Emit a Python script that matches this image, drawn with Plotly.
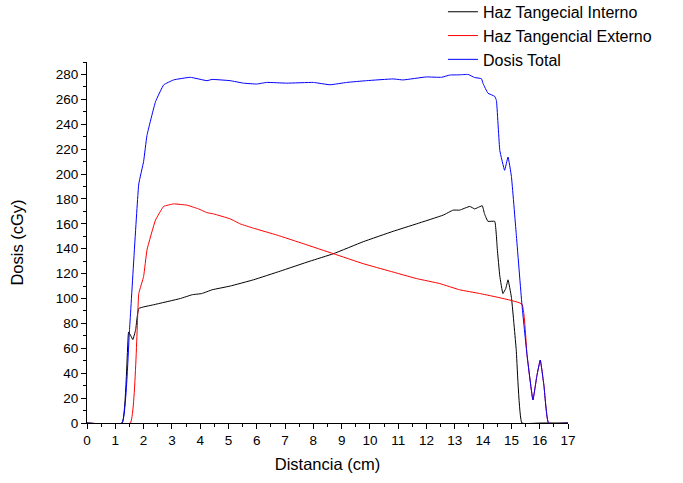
import plotly.graph_objects as go

# Haz Tangecial Interno
x_int = [0, 1.24, 1.47, 1.55, 1.62, 1.72, 1.83, 2.36, 3.3, 3.71, 4.06, 4.42, 5.06, 5.88, 6.83, 7.88,
         8.71, 9.76, 10.82, 11.65, 12.59, 12.94, 13.17, 13.53, 13.7, 13.97, 14.05, 14.17, 14.41, 14.5,
         14.59, 14.7, 14.8, 14.88, 15.0, 15.17, 15.37, 16.0, 17]
y_int = [0, 0, 73, 70, 67, 75, 92, 95, 100, 103, 104, 107, 110, 115, 122, 130,
         136, 145.6, 154, 160, 167, 171, 171, 174, 172, 174.5, 168, 162, 162, 140,
         118, 104, 108, 115, 101, 59, 0, 0, 0]

# Haz Tangencial Externo
x_ext = [0, 1.53, 1.83, 2.0, 2.12, 2.42, 2.71, 3.06, 3.53, 3.94, 4.24, 4.47, 5.06, 5.41, 5.88, 6.71,
         7.65, 8.71, 9.76, 10.7, 11.65, 12.47, 13.17, 13.88, 15.37, 15.55, 15.76, 15.9, 16.02, 16.15,
         16.31, 17]
y_ext = [0, 0, 104, 117.6, 139, 163, 174, 176, 175, 172, 169, 168, 164, 160, 156.5, 151,
         144, 136, 128, 122, 116, 112, 107, 104, 95.5, 55, 18.5, 38, 50.6, 30,
         0, 0]

# Dosis Total
x_tot = [0, 1.24, 1.5, 1.83, 2.0, 2.12, 2.42, 2.71, 3.06, 3.65, 4.24, 4.42, 5.06, 5.53, 6.0, 6.35,
         7.06, 8.0, 8.59, 9.18, 9.88, 10.82, 11.17, 11.99, 12.53, 12.82, 13.17, 13.47, 13.7, 13.94,
         14.0, 14.17, 14.41, 14.47, 14.59, 14.76, 14.88, 15.0, 15.17, 15.37, 15.55, 15.76, 15.9,
         16.02, 16.15, 16.31, 17]
y_tot = [0, 0, 74, 192, 210, 231, 258, 271.6, 275.6, 277.7, 275, 276, 275, 273, 272.3, 273.6,
         273, 273.6, 271.7, 273.6, 275, 276.4, 275.6, 278, 277.7, 279.5, 279.7, 280, 277.5, 276.6,
         272.6, 265, 262.4, 259, 219, 203, 213.7, 198, 152, 95.5, 55, 18.5, 38,
         50.6, 30, 0, 0]

x_ticks = list(range(0, 18))
y_ticks = list(range(0, 281, 20))

FONT = "Arial, Liberation Sans, sans-serif"

fig = go.Figure()
fig.add_trace(go.Scatter(x=x_int, y=y_int, mode="lines", name="Haz Tangecial Interno",
                         line=dict(color="#000000", width=1, shape="spline", smoothing=0.3)))
fig.add_trace(go.Scatter(x=x_ext, y=y_ext, mode="lines", name="Haz Tangencial Externo",
                         line=dict(color="#ff0000", width=1, shape="spline", smoothing=0.3)))
fig.add_trace(go.Scatter(x=x_tot, y=y_tot, mode="lines", name="Dosis Total",
                         line=dict(color="#0000ff", width=1, shape="spline", smoothing=0.3)))

fig.update_layout(
    width=683, height=483,
    margin=dict(l=86.5, r=114.5, t=62, b=60, autoexpand=False),
    paper_bgcolor="white", plot_bgcolor="white",
    font=dict(family=FONT, size=13.5, color="#000000"),
    showlegend=True,
    legend=dict(x=0.74, y=1.186, xanchor="left", yanchor="top",
                font=dict(family=FONT, size=16, color="#000000"),
                bgcolor="rgba(0,0,0,0)", tracegroupgap=0, itemwidth=30),
    xaxis=dict(range=[0, 17], tickvals=x_ticks, ticktext=[str(v) for v in x_ticks],
               showgrid=False, zeroline=False, showline=True, linecolor="#000000", linewidth=1,
               ticks="outside", ticklen=5, tickwidth=1, tickcolor="#000000",
               minor=dict(dtick=0.5, ticks="outside", ticklen=3, tickwidth=1, tickcolor="#000000"),
               tickfont=dict(size=13.5),
               title=dict(text="Distancia (cm)", font=dict(size=16.5), standoff=11)),
    yaxis=dict(range=[0, 290], tickvals=y_ticks, ticktext=[str(v) for v in y_ticks],
               showgrid=False, zeroline=False, showline=True, linecolor="#000000", linewidth=1,
               ticks="outside", ticklen=5, tickwidth=1, tickcolor="#000000",
               minor=dict(dtick=10, ticks="outside", ticklen=3, tickwidth=1, tickcolor="#000000"),
               tickfont=dict(size=13.5),
               title=dict(text="Dosis (cGy)", font=dict(size=16.5), standoff=27)),
)

fig.write_html("out.html")
